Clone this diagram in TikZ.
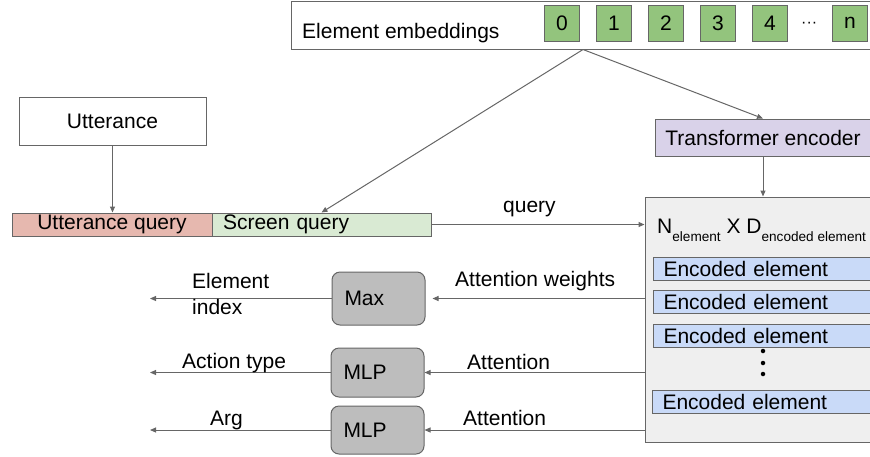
\documentclass[tikz,border=0pt]{standalone}
\usepackage{fontspec}
\setmainfont{Liberation Sans}
\usetikzlibrary{arrows.meta}

\definecolor{linegray}{HTML}{666666}
\definecolor{cellgreen}{HTML}{93C47D}
\definecolor{uttred}{HTML}{E6B8AF}
\definecolor{scrgreen}{HTML}{D9EAD3}
\definecolor{tfpurple}{HTML}{D9D2E9}
\definecolor{encgray}{HTML}{EFEFEF}
\definecolor{encblue}{HTML}{C9DAF8}
\definecolor{opgray}{HTML}{BDBDBD}

\begin{document}
\begin{tikzpicture}[x=1pt, y=-1pt,
    font=\fontsize{21}{25}\selectfont,
    box/.style={draw=linegray, line width=1pt, inner sep=0pt},
    cell/.style={box, fill=cellgreen, minimum width=35pt, minimum height=36pt},
    row/.style={box, fill=encblue, anchor=west, minimum height=23pt, text width=200pt, inner xsep=10pt, align=left},
    op/.style={box, fill=opgray, rounded corners=8pt, text width=68pt, inner xsep=12.5pt, align=left},
    arr/.style={draw=linegray, line width=1pt, -{Triangle[length=6pt, width=5pt]}},
    lbl/.style={anchor=base west, inner sep=0pt},
    vdot/.style={circle, fill=black, inner sep=0pt, minimum size=4.5pt}]
        \useasboundingbox (0,0) rectangle (870,456);
        \clip (0,0) rectangle (870,456);

        % element embeddings
        \node[box, fill=white, minimum width=584pt, minimum height=48pt] (emb) at (583,25) {};
        \node[lbl] (embtxt) at (302,38) {Element embeddings};
        \foreach \i in {0,...,4}
            \node[cell] (c\i) at ({562+52*\i}, 23) {\i};
        \node[lbl, font=\fontsize{16}{16}\selectfont] (cdots) at (801,27) {\textperiodcentered\textperiodcentered\textperiodcentered};
        \node[cell] (cn) at (850,23) {n};

        % query
        \node[box, minimum width=187pt, minimum height=48pt] (utt) at (112.5,121) {Utterance};
        \node[box, fill=uttred, minimum width=200pt, minimum height=23pt] (uq) at (112,224.5) {Utterance query};
        \node[box, fill=scrgreen, minimum height=23pt, text width=197pt, inner xsep=11pt, align=left] (sq) at (321.5,224.5) {Screen query};

        % encoder
        \node[box, fill=tfpurple, minimum width=216pt, minimum height=37pt] (tf) at (763,137.5) {Transformer encoder};
        \node[box, fill=encgray, minimum width=235pt, minimum height=245pt] (enc) at (762.5,319.5) {};
        \node[lbl] (dims) at (657,233) {N\raisebox{-8pt}{\fontsize{13.6}{14}\selectfont element} X D\raisebox{-8pt}{\fontsize{13.6}{14}\selectfont encoded element}};
        \foreach \n/\y in {1/268.5, 2/301.5, 3/335.5}
            \node[row] (e\n) at (653,\y) {Encoded element};
        \node[row] (e4) at (652,401.5) {Encoded element};
        \foreach \n/\y in {1/351, 2/363, 3/374}
            \node[vdot] (v\n) at (763,\y) {};

        % heads
        \node[op, minimum height=53pt] (mx) at (378.5,298.5) {Max};
        \node[op, minimum height=49pt] (m1) at (377.5,372.5) {MLP};
        \node[op, minimum height=48pt] (m2) at (377.5,430) {MLP};
        \coordinate (outx) at (150,0);

        \draw[arr] (emb.south) -- (sq.north);
        \draw[arr] (emb.south) -- (tf.north);
        \draw[arr] (utt.south) -- (utt.south |- uq.north);
        \draw[arr] (tf.south) -- (tf.south |- enc.north);
        \draw[arr] (sq.east) -- (sq.east -| enc.west);
        \draw[arr] (enc.west |- mx) -- ([xshift=7pt]mx.east);
        \draw[arr] (enc.west |- m1) -- (m1.east);
        \draw[arr] (enc.west |- m2) -- (m2.east);
        \draw[arr] (mx.west) -- (mx.west -| outx);
        \draw[arr] (m1.west) -- (m1.west -| outx);
        \draw[arr] (m2.west) -- (m2.west -| outx);

        \node[lbl] (qlbl) at (503,212) {query};
        \node[lbl] (awlbl) at (455,286) {Attention weights};
        \node[lbl] (at1) at (467,369) {Attention};
        \node[lbl] (at2) at (463,425) {Attention};
        \node[lbl] (idx1) at (192,288) {Element};
        \node[lbl] (idx2) at (192,314) {index};
        \node[lbl] (actlbl) at (182,368) {Action type};
        \node[lbl] (arglbl) at (210,425) {Arg};
\end{tikzpicture}
\end{document}
